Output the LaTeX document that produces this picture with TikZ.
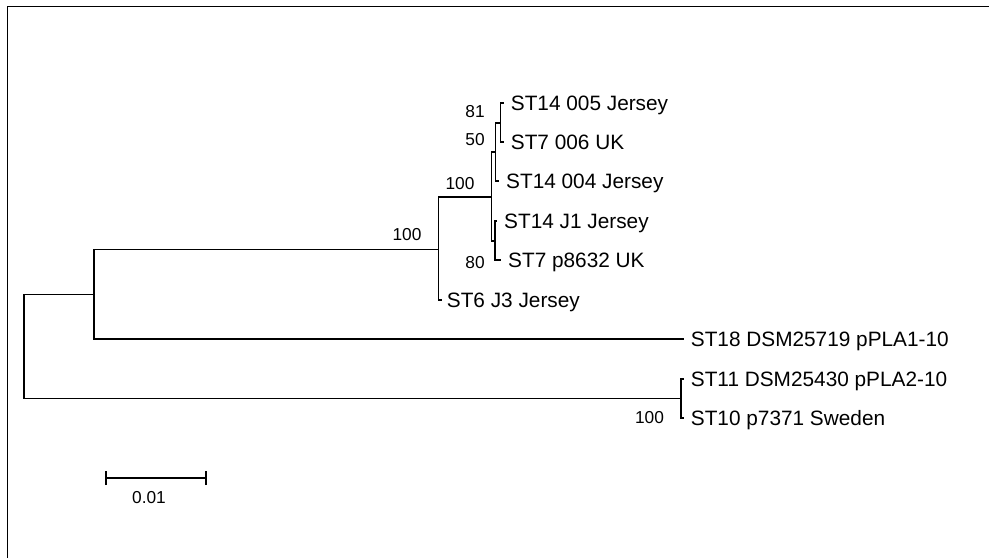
\documentclass[tikz,border=0pt]{standalone}
\usepackage{fontspec}
\setmainfont{Liberation Sans}
\begin{document}
\begin{tikzpicture}[x=1pt,y=-1pt,
  br/.style={line width=1.5pt,line cap=rect},
  leaf/.style={inner sep=0pt,anchor=base west,font=\fontsize{20.8}{24}\selectfont},
  boot/.style={inner sep=0pt,anchor=base,font=\fontsize{17.3}{20}\selectfont}]
\useasboundingbox (0,0) rectangle (989,558);
% frame
\draw[line width=1.5pt] (7.3,558) -- (7.3,6.5) -- (989,6.5);
% internal nodes
\coordinate (R) at (24,346.5);
\coordinate (A) at (94,294.5);
\coordinate (O) at (438.7,249.5);
\coordinate (I) at (491.7,197);
\coordinate (N50) at (495.7,152);
\coordinate (N81) at (500.7,123);
\coordinate (N80) at (495,241);
\coordinate (B) at (681,398.5);
% leaf tips
\coordinate (t1) at (503,103);
\coordinate (t2) at (503,142);
\coordinate (t3) at (498,181);
\coordinate (t4) at (496.5,221);
\coordinate (t5) at (500,260);
\coordinate (t6) at (441,300);
\coordinate (t7) at (683,339);
\coordinate (t8) at (683,379);
\coordinate (t9) at (683,418);
% branches
\draw[br] (A) -| (R) |- (B);
\draw[br] (O) -| (A) |- (t7);
\draw[br] (I) -| (O) |- (t6);
\draw[br] (N50) -| (I) |- (N80);
\draw[br] (N81) -| (N50) |- (t3);
\draw[br] (t1) -| (N81) |- (t2);
\draw[br] (t4) -| (N80) |- (t5);
\draw[br] (t8) -| (B) |- (t9);
% leaf labels
\node[leaf] (l1) at (510.7,110) {ST14 005 Jersey};
\node[leaf] (l2) at (510.7,149.5) {ST7 006 UK};
\node[leaf] (l3) at (506,188.5) {ST14 004 Jersey};
\node[leaf] (l4) at (504,228.5) {ST14 J1 Jersey};
\node[leaf] (l5) at (508,267.5) {ST7 p8632 UK};
\node[leaf] (l6) at (446.7,307.3) {ST6 J3 Jersey};
\node[leaf] (l7) at (690.7,346.7) {ST18 DSM25719 pPLA1-10};
\node[leaf] (l8) at (690.7,386.5) {ST11 DSM25430 pPLA2-10};
\node[leaf] (l9) at (690.7,425.5) {ST10 p7371 Sweden};
% bootstrap values
\node[boot] (b1) at (407,240) {100};
\node[boot] (b2) at (460,189) {100};
\node[boot] (b3) at (475,117) {81};
\node[boot] (b4) at (475,145) {50};
\node[boot] (b5) at (475,268) {80};
\node[boot] (b6) at (649.5,423.3) {100};
% scale bar
\coordinate (s1) at (106,478);
\coordinate (s2) at (206,478);
\draw[br,line cap=butt] (s1) -- (s2);
\draw[br,line cap=butt] ([yshift=-7pt]s1) -- ([yshift=7pt]s1);
\draw[br,line cap=butt] ([yshift=-7pt]s2) -- ([yshift=7pt]s2);
\node[boot] (sl) at (149,503) {0.01};
\end{tikzpicture}
\end{document}
